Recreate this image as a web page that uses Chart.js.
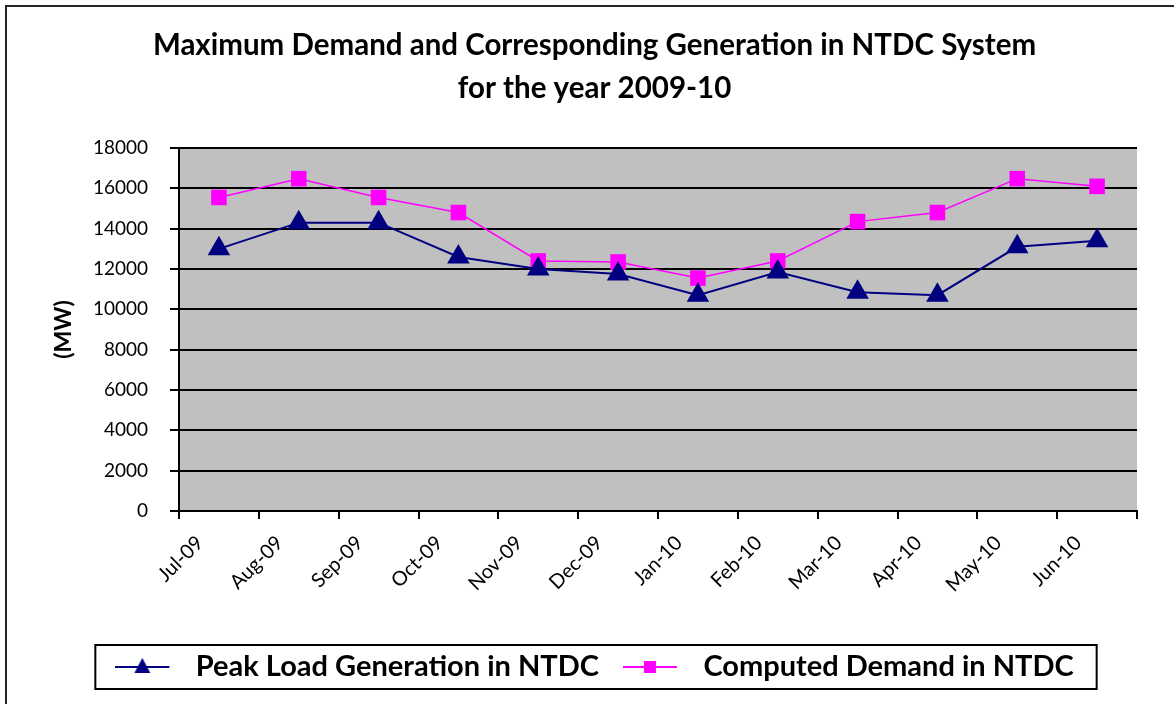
<!DOCTYPE html>
<html>
<head>
<meta charset="utf-8">
<title>Maximum Demand and Corresponding Generation in NTDC System</title>
<script src="https://cdn.jsdelivr.net/npm/chart.js@4.4.1/dist/chart.umd.min.js"></script>
<style>
  html, body { margin: 0; padding: 0; background: #ffffff; }
  #wrap { position: relative; width: 1174px; height: 704px; }
</style>
</head>
<body>
<div id="wrap"><canvas id="ntdcChart" width="1174" height="704"></canvas></div>
<script>
const months = ['Jul-09', 'Aug-09', 'Sep-09', 'Oct-09', 'Nov-09', 'Dec-09',
                'Jan-10', 'Feb-10', 'Mar-10', 'Apr-10', 'May-10', 'Jun-10'];
const peakLoad = [13000, 14300, 14300, 12600, 12000, 11750, 10700, 11850, 10850, 10700, 13100, 13400];
const computedDemand = [15550, 16480, 15550, 14800, 12400, 12350, 11550, 12400, 14350, 14800, 16480, 16100];
const yTicks = [0, 2000, 4000, 6000, 8000, 10000, 12000, 14000, 16000, 18000];

const NAVY = '#000080';
const MAGENTA = '#FF00FF';

// legend swatch: short line with marker in the middle
function legendSwatch(color, shape) {
    const c = document.createElement('canvas');
    c.width = 66;
    c.height = 24;
    const g = c.getContext('2d');
    g.strokeStyle = color;
    g.fillStyle = color;
    g.lineWidth = 2;
    g.beginPath();
    g.moveTo(0, 12);
    g.lineTo(54, 12);
    g.stroke();
    g.beginPath();
    if (shape === 'triangle') {
        g.moveTo(27, 3);
        g.lineTo(35, 18);
        g.lineTo(19, 18);
        g.closePath();
    } else {
        g.rect(21, 6, 12, 12);
    }
    g.fill();
    return c;
}

const chartDecor = {
    id: 'chartDecor',
    beforeDraw(chart) {
        const {ctx, chartArea: a} = chart;
        ctx.save();
        ctx.fillStyle = '#C0C0C0';
        ctx.fillRect(a.left, a.top, a.right - a.left, a.bottom - a.top);
        ctx.restore();
    },
    afterDraw(chart) {
        const ctx = chart.ctx;
        ctx.save();
        // outer frame (top and left edges visible)
        ctx.strokeStyle = '#262626';
        ctx.lineWidth = 2;
        ctx.beginPath();
        ctx.moveTo(6, 704);
        ctx.lineTo(6, 6);
        ctx.lineTo(1174, 6);
        ctx.stroke();
        // box round the legend
        const boxes = chart.legend.legendHitBoxes;
        if (boxes && boxes.length) {
            const first = boxes[0];
            const last = boxes[boxes.length - 1];
            const cy = first.top + first.height / 2;
            ctx.strokeStyle = '#000000';
            ctx.lineWidth = 2;
            ctx.strokeRect(first.left - 20, cy - 22, last.left + last.width + 23 - (first.left - 20), 44);
        }
        ctx.restore();
    }
};

function initChart() {
    const ctx = document.getElementById('ntdcChart').getContext('2d');

    new Chart(ctx, {
        type: 'line',
        data: {
            labels: months,
            datasets: [{
                label: 'Peak Load Generation in NTDC',
                data: peakLoad,
                borderColor: NAVY,
                backgroundColor: NAVY,
                borderWidth: 2,
                pointStyle: 'triangle',
                pointRadius: 13,
                pointBorderWidth: 0,
                tension: 0
            }, {
                label: 'Computed Demand in NTDC',
                data: computedDemand,
                borderColor: MAGENTA,
                backgroundColor: MAGENTA,
                borderWidth: 1.5,
                pointStyle: 'rect',
                pointRadius: 11,
                pointBorderWidth: 0,
                tension: 0
            }]
        },
        options: {
            responsive: false,
            animation: false,
            layout: { padding: { top: 0, left: 52, right: 37, bottom: 12.5 } },
            plugins: {
                tooltip: { enabled: false },
                title: {
                    display: true,
                    text: ['Maximum Demand and Corresponding Generation in NTDC System', 'for the year 2009-10'],
                    color: '#000000',
                    font: { family: 'Lato', size: 29.5, weight: 'bold', lineHeight: 1.458 },
                    padding: { top: 24, bottom: 38 }
                },
                legend: {
                    position: 'bottom',
                    labels: {
                        usePointStyle: true,
                        pointStyleWidth: 66,
                        padding: 24,
                        color: '#000000',
                        font: { family: 'Lato', size: 29, weight: 'bold' },
                        generateLabels(chart) {
                            return chart.data.datasets.map((ds, i) => ({
                                text: ds.label,
                                pointStyle: legendSwatch(ds.borderColor, ds.pointStyle),
                                fillStyle: ds.borderColor,
                                strokeStyle: ds.borderColor,
                                lineWidth: 0,
                                fontColor: '#000000',
                                datasetIndex: i
                            }));
                        }
                    }
                }
            },
            scales: {
                x: {
                    offset: true,
                    afterFit(axis) { axis.height = 117.5; },
                    grid: {
                        offset: true,
                        drawOnChartArea: false,
                        color: '#000000',
                        lineWidth: 2,
                        tickLength: 8
                    },
                    border: { display: true, color: '#000000', width: 2 },
                    ticks: {
                        autoSkip: false,
                        minRotation: 45,
                        maxRotation: 45,
                        labelOffset: -19,
                        padding: 12,
                        color: '#000000',
                        font: { family: 'Lato', size: 20 }
                    }
                },
                y: {
                    min: 0,
                    max: 18000,
                    afterFit(axis) { axis.width = 127; },
                    afterBuildTicks(axis) { axis.ticks = yTicks.map(v => ({ value: v })); },
                    grid: {
                        color: '#000000',
                        lineWidth: 2,
                        tickLength: 9
                    },
                    border: { display: true, color: '#000000', width: 2 },
                    ticks: {
                        padding: 22,
                        color: '#000000',
                        font: { family: 'Lato', size: 19 },
                        callback: (value) => String(value)
                    },
                    title: {
                        display: true,
                        text: '(MW)',
                        color: '#000000',
                        font: { family: 'Lato', size: 23, weight: 'bold', lineHeight: 1 },
                        padding: { top: 0, bottom: 0 }
                    }
                }
            }
        },
        plugins: [chartDecor]
    });
}

document.addEventListener('DOMContentLoaded', initChart);
</script>
</body>
</html>
